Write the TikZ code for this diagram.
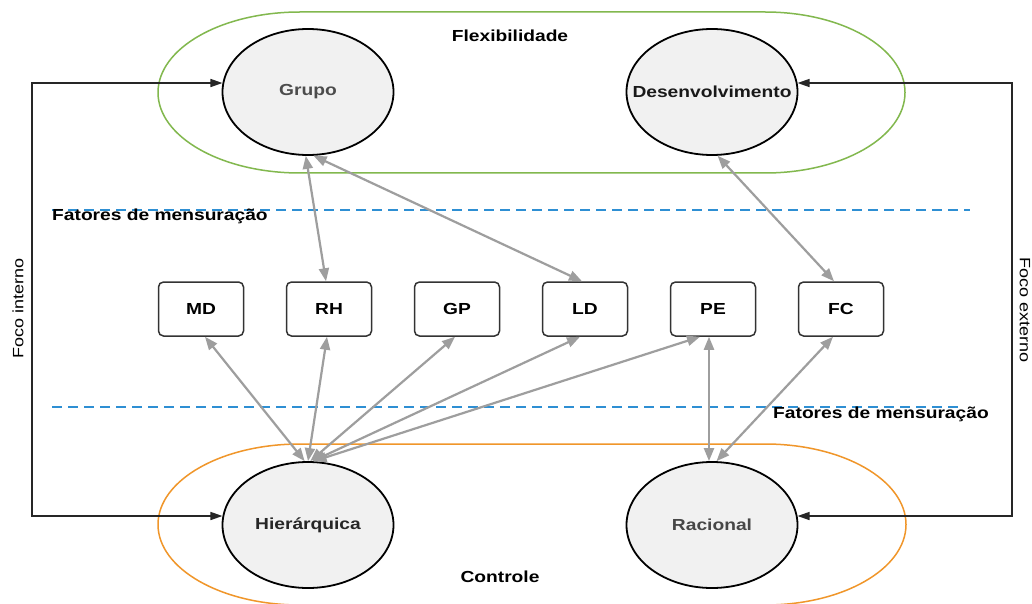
\documentclass[tikz,border=0pt]{standalone}
\usepackage{fontspec}
\setmainfont{Liberation Sans}[FakeStretch=1.2]
\usetikzlibrary{arrows.meta,calc,shapes.geometric}
\definecolor{flexgreen}{HTML}{82B84E}
\definecolor{ctrlorange}{HTML}{F0962A}
\definecolor{dashblue}{HTML}{2E8FD3}
\definecolor{arrowgray}{HTML}{9E9E9E}
\definecolor{ellfill}{HTML}{F1F1F1}
\begin{document}
\begin{tikzpicture}[x=1pt,y=-1pt,
  culture/.style={ellipse, draw=black, line width=1.8pt, fill=ellfill,
    minimum width=171pt, minimum height=126pt, inner xsep=-30pt, inner ysep=0pt,
    font=\fontsize{16}{19}\selectfont\bfseries},
  factor/.style={rectangle, rounded corners=5pt, draw=black!80, line width=1.5pt,
    fill=white, minimum width=85pt, minimum height=54pt, inner sep=0pt,
    font=\fontsize{16}{19}\selectfont\bfseries},
  label/.style={font=\fontsize{16}{19}\selectfont\bfseries, inner sep=0pt},
  sidelabel/.style={font=\fontsize{15}{18}\selectfont, inner sep=0pt},
  biarrow/.style={draw=arrowgray, line width=2.2pt,
    {Triangle[length=13pt,width=10pt]}-{Triangle[length=13pt,width=10pt]}},
  focusarrow/.style={draw=black!85, line width=1.5pt,
    {Triangle[length=12pt,width=8pt]}-{Triangle[length=12pt,width=8pt]}},
  measure/.style={draw=dashblue, line width=2.4pt, dash pattern=on 10pt off 6pt},
]
\useasboundingbox (0,0) rectangle (1032,604);
\fill[white] (0,0) rectangle (1032,604);

% outer regions
\draw[flexgreen, line width=1.5pt] (300,12) -- (765,12)
  arc[start angle=-90, end angle=90, x radius=140, y radius=80.5]
  -- (300,173)
  arc[start angle=90, end angle=270, x radius=142, y radius=80.5] -- cycle;
\draw[ctrlorange, line width=1.5pt] (300,444) -- (765,444)
  arc[start angle=-90, end angle=90, x radius=141, y radius=80.5]
  -- (300,605)
  arc[start angle=90, end angle=270, x radius=142, y radius=80.5] -- cycle;

% measurement lines
\draw[measure] (52,210) -- (970,210);
\draw[measure] (52,407) -- (962,407);

% texts
\node[label] (flex) at (510,36) {Flexibilidade};
\node[label] (ctrl) at (500,577) {Controle};
\node[label, anchor=west] (fm1) at (52,216) {Fatores de mensuração};
\node[label, anchor=west] (fm2) at (773,414) {Fatores de mensuração};
\node[sidelabel, rotate=90] (fi) at (18,308) {Foco interno};
\node[sidelabel, rotate=-90] (fe) at (1025,310) {Foco externo};

% cultures
\node[culture, text=black!70] (grupo) at (308,92) {Grupo};
\node[culture, text=black!90] (desen) at (712,92) {Desenvolvimento};
\node[culture, text=black!85] (hier) at (308,525) {Hierárquica};
\node[culture, text=black!72] (rac) at (712,525) {Racional};

% factors
\node[factor] (md) at (201,309) {MD};
\node[factor] (rh) at (329,309) {RH};
\node[factor] (gp) at (457,309) {GP};
\node[factor] (ld) at (585,309) {LD};
\node[factor] (pe) at (713,309) {PE};
\node[factor] (fc) at (841,309) {FC};

% focus connectors
\coordinate (leftbar) at (32,300);
\coordinate (rightbar) at (1012,300);
\draw[focusarrow] (grupo.174) -| (leftbar) |- (hier.174);
\draw[focusarrow] (desen.6) -| (rightbar) |- (rac.6);

% gray relations
\coordinate (peb) at ($(pe.south)+(-4,0)$);
\coordinate (ract) at (peb |- rac.north);
\draw[biarrow] (grupo.-92) -- ($(rh.north)+(-3,0)$);
\draw[biarrow] (grupo.-85) -- ($(ld.north)+(-3,0)$);
\draw[biarrow] (desen.-85) -- ($(fc.north)+(-7,0)$);
\draw[biarrow] (hier.93) -- ($(md.south)+(4,0)$);
\draw[biarrow] (hier.90) -- ($(rh.south)+(-2,0)$);
\draw[biarrow] (hier.88) -- ($(gp.south)+(-2,0)$);
\draw[biarrow] (hier.86) -- ($(ld.south)+(-5,0)$);
\draw[biarrow] (hier.85) -- ($(pe.south)+(-13,0)$);
\draw[biarrow] (peb) -- (ract);
\draw[biarrow] (rac.86) -- ($(fc.south)+(-8,0)$);
\end{tikzpicture}
\end{document}
